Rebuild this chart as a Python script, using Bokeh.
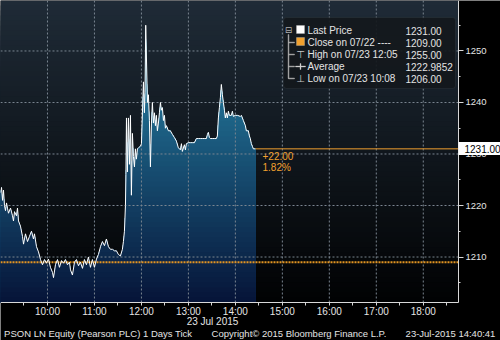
import numpy as np
from bokeh.plotting import figure
from bokeh.models import (Range1d, FixedTicker, Label, BoxAnnotation, LinearAxis,
                          PrintfTickFormatter)
from bokeh.embed import file_html
from bokeh.resources import INLINE

# ---- data (minutes after 09:00, price) ----
minutes = [0, 1.3, 2.6, 3.8, 5.1, 6.4, 7.7, 8.9, 10.2, 12.8, 15.3, 16.6, 17.9, 20.4, 21.7, 23.0, 25.5, 28.1, 29.4,
           31.9, 34.5, 37.0, 39.6, 42.1, 43.4, 46.0, 48.5, 51.1, 53.6, 56.2, 58.7, 61.3, 63.8, 66.4, 67.7, 70.2,
           72.8, 75.3, 77.9, 80.4, 83.0, 85.5, 88.1, 89.4, 91.9, 94.5, 97.0, 99.6, 102.1, 104.7, 107.2, 109.8,
           112.3, 114.9, 117.4, 120.0, 122.6, 125.1, 127.7, 130.2, 132.8, 135.3, 137.9, 140.4, 143.0, 145.5,
           148.1, 150.6, 153.2, 155.7, 157.0, 158.3, 159.6, 160.2, 160.9, 162.1, 163.4, 164.7, 166.0, 167.2,
           168.5, 169.8, 171.1, 172.3, 173.6, 174.9, 176.2, 178.7, 180.0, 181.3, 182.6, 183.8, 184.6, 185.5,
           187.7, 188.9, 190.2, 191.5, 192.8, 194.0, 195.3, 196.6, 197.9, 199.1, 200.4, 201.7, 203.0, 204.3,
           205.5, 206.8, 208.1, 209.4, 210.6, 211.9, 214.5, 217.0, 219.6, 222.1, 224.7, 227.2, 229.8, 231.1,
           232.3, 234.9, 236.2, 237.4, 240.0, 242.6, 245.1, 247.7, 250.2, 252.8, 255.3, 257.9, 260.4, 263.0,
           264.3, 265.5, 266.8, 268.1, 270.6, 273.2, 275.7, 277.0, 278.3, 279.6, 280.9, 282.1, 283.4, 284.7,
           286.0, 287.2, 288.5, 289.8, 291.1, 292.3, 294.9, 296.2, 297.4, 300.0, 302.6, 306.4, 307.7, 310.2,
           312.8, 314.0, 316.6, 317.9, 319.1, 320.4, 321.7, 323.0, 325.5]
prices = [1222.5, 1223.5, 1221, 1223, 1220, 1219, 1220.5, 1219.5, 1218.5, 1219.5, 1218, 1217, 1218.8, 1218,
          1219.5, 1217, 1216, 1214, 1212.5, 1214.5, 1213, 1214, 1215, 1213.5, 1214.5, 1212, 1211, 1209.5,
          1208.5, 1209.5, 1208.8, 1209.6, 1208, 1207, 1206, 1208.5, 1209.5, 1208, 1209.3, 1208.8, 1209.5,
          1208.5, 1209, 1207.5, 1206.5, 1209, 1209.5, 1208.3, 1209, 1207.8, 1209.5, 1208.5, 1210, 1208,
          1209.5, 1208, 1209.6, 1210.5, 1212, 1213, 1212.2, 1213.5, 1212, 1211.5, 1211.5, 1211.2, 1211.2,
          1210.5, 1210.2, 1211.5, 1213, 1215, 1220, 1226, 1237, 1226.5, 1237, 1228, 1237.5, 1222, 1234,
          1229.5, 1227.5, 1231, 1229, 1231, 1231.2, 1231.5, 1232, 1238, 1244, 1238, 1242, 1255, 1240,
          1241.5, 1236.5, 1227.5, 1236, 1240, 1236, 1238, 1235.5, 1237.5, 1234.5, 1236, 1238, 1240, 1238.5,
          1239, 1236.5, 1237.5, 1235, 1235.5, 1234.5, 1234.5, 1233.8, 1233.2, 1232.5, 1231.2, 1230.8, 1232,
          1230.5, 1231.8, 1230.8, 1232, 1232.2, 1232.2, 1232.2, 1232.2, 1233, 1233, 1233, 1233, 1233, 1233,
          1233.8, 1234.2, 1233.2, 1233, 1233, 1233, 1233, 1233.5, 1237, 1239, 1241, 1243.5, 1241.5, 1240,
          1238.5, 1237, 1238, 1237, 1238.3, 1237.5, 1237.5, 1238.3, 1237.3, 1237.5, 1237.5, 1237.3, 1237.5,
          1236.5, 1235.5, 1234.5, 1234.5, 1233.5, 1233, 1232, 1231.5, 1231, 1231]

prev_close = 1209.0
average = 1222.9852
high_time = "07/23 12:05"
low_time = "07/23 10:08"
close_date = "07/22"

x_ticks = [60, 120, 180, 240, 300, 360, 420, 480, 540]
x_tick_labels = ["10:00", "11:00", "12:00", "13:00", "14:00", "15:00", "16:00", "17:00", "18:00"]
x_minor = [30, 90, 150, 210, 270, 330, 390, 450, 510, 570]
y_ticks = [1210, 1220, 1230, 1240, 1250]
y_minor = [1205, 1215, 1225, 1235, 1245, 1255]

date_label = "23 Jul 2015"
footer_texts = ["PSON LN Equity (Pearson PLC) 1 Days  Tick",
                "Copyright\u00a9 2015 Bloomberg Finance L.P.",
                "23-Jul-2015 14:40:41"]

# ---- layout constants ----
W, H = 500, 340          # whole canvas = frame
DW, DH = 458, 302        # data area (top-left aligned)
XR = (0, 585)            # data x range shown in data area
YR = (1201.17, 1259.8)   # data y range shown in data area
FONT = "Liberation Sans"
ORANGE = "#f2a12e"
TXT = "#e4e4e4"

def px_to_x(px):
    return XR[0] + px / DW * (XR[1] - XR[0])

def py_to_y(py):
    return YR[1] - py / DH * (YR[1] - YR[0])

p = figure(frame_width=W, frame_height=H,
           x_range=Range1d(px_to_x(0), px_to_x(W)), y_range=Range1d(py_to_y(H), py_to_y(0)),
           x_axis_location=None, y_axis_location=None,
           output_backend="svg", toolbar_location=None, min_border=0)
p.background_fill_color = "black"
p.border_fill_color = "black"
p.outline_line_color = None
p.grid.visible = False

def mix(c0, c1, t):
    return "#%02x%02x%02x" % tuple(int(round(a + (b - a) * t)) for a, b in zip(c0, c1))

# background gradient of the data area
nb = 60
edges = np.linspace(YR[0], YR[1], nb + 1)
order = list(range(nb - 1, -1, -1))  # top band first
bg_top, bg_bot = (31, 43, 55), (1, 2, 3)
fill_top, fill_bot = (44, 150, 185), (6, 20, 56)
fr = [(YR[1] - (edges[k] + edges[k + 1]) / 2) / (YR[1] - YR[0]) for k in order]
p.quad(left=XR[0], right=XR[1], bottom=YR[0], top=[edges[k + 1] for k in order],
       fill_color=[mix(bg_top, bg_bot, f) for f in fr], line_color=None)

# area fill gradient
t = np.array(minutes, dtype=float)
pr = np.array(prices, dtype=float)
tf = np.union1d(t, np.linspace(t[0], t[-1], 2500))
pf = np.interp(tf, t, pr)
for k, f in zip(order, fr):
    p.varea(x=tf, y1=YR[0], y2=np.minimum(pf, edges[k + 1]), fill_color=mix(fill_top, fill_bot, f))

# dotted grid (data area only)
GRID = "#7a8590"
p.segment(x0=x_ticks, y0=YR[0], x1=x_ticks, y1=YR[1], line_color=GRID, line_dash="2 2", line_width=1)
p.segment(x0=XR[0], y0=y_ticks, x1=XR[1], y1=y_ticks, line_color=GRID, line_dash="2 2", line_width=1)

# previous close dotted line
p.segment(x0=[XR[0]], y0=[prev_close], x1=[XR[1]], y1=[prev_close], line_color="#e39522",
          line_width=2, line_dash="2 1")

# price line
p.line(minutes, prices, line_color="white", line_width=1)

# last price line
last = prices[-1]
p.segment(x0=[minutes[-1]], y0=[last], x1=[XR[1]], y1=[last], line_color=ORANGE, line_width=1)

# ---- axes (fixed at the data-area edges) ----
AX = "#d8d8d8"
def style(ax):
    ax.axis_line_color = AX
    ax.major_tick_line_color = AX
    ax.minor_tick_line_color = AX
    ax.major_label_text_color = TXT
    ax.major_label_text_font = FONT
    ax.major_tick_in = 0
    ax.minor_tick_in = 0

xa = LinearAxis(ticker=FixedTicker(ticks=x_ticks, minor_ticks=x_minor),
                major_label_overrides=dict(zip(x_ticks, x_tick_labels)),
                fixed_location=YR[0], bounds=XR)
style(xa)
xa.major_tick_out = 3
xa.minor_tick_out = 3
xa.major_label_standoff = 0
xa.major_label_text_font_size = "10px"
p.add_layout(xa, "below")

ya = LinearAxis(ticker=FixedTicker(ticks=y_ticks, minor_ticks=y_minor),
                fixed_location=XR[1], bounds=YR)
style(ya)
ya.major_tick_out = 5
ya.minor_tick_out = 2
ya.major_label_standoff = 2
ya.major_label_text_font_size = "9.5px"
p.add_layout(ya, "right")

# last-price tag: white bar (long thick tick) + black label
tag_bar = LinearAxis(ticker=FixedTicker(ticks=[last]), fixed_location=XR[1],
                     axis_line_color=None, minor_tick_line_color=None,
                     major_tick_line_color="white", major_tick_line_width=13,
                     major_tick_out=42, major_tick_in=0, major_label_text_alpha=0)
p.add_layout(tag_bar, "right")
tag_txt = LinearAxis(ticker=FixedTicker(ticks=[last]), formatter=PrintfTickFormatter(format="%.2f"),
                     fixed_location=XR[1], axis_line_color=None, minor_tick_line_color=None,
                     major_tick_line_color=None, major_tick_out=0, major_tick_in=0,
                     major_label_standoff=6, major_label_text_color="black",
                     major_label_text_font=FONT, major_label_text_font_size="10px")
p.add_layout(tag_txt, "right")

# date row and footer row as text-only axes
def text_axis(ypx, centers_px, texts, size):
    ax = LinearAxis(ticker=FixedTicker(ticks=[px_to_x(c) for c in centers_px]),
                    major_label_overrides={px_to_x(c): s for c, s in zip(centers_px, texts)},
                    fixed_location=py_to_y(ypx), axis_line_color=None,
                    major_tick_line_color=None, minor_tick_line_color=None,
                    major_tick_out=0, major_tick_in=0, major_label_standoff=0,
                    major_label_text_color=TXT, major_label_text_font=FONT,
                    major_label_text_font_size=size)
    p.add_layout(ax, "below")

text_axis(315, [212], [date_label], "10px")
text_axis(327.5, [99, 298.5, 450], footer_texts, "9.5px")

# ---- screen-positioned annotations (canvas px, y from top) ----
def lab(x, y, text, size="10px", color=TXT, align="left", font=FONT, **kw):
    p.add_layout(Label(x=x, y=H - y, x_units="screen", y_units="screen", text=text,
                       text_font=font, text_font_size=size, text_color=color,
                       text_align=align, text_baseline="middle", **kw))

def box(l, r, t_, b, color, alpha=1.0, **kw):
    p.add_layout(BoxAnnotation(left=l, right=r, top=H - t_, bottom=H - b,
                               left_units="screen", right_units="screen",
                               top_units="screen", bottom_units="screen",
                               fill_color=color, fill_alpha=alpha, **kw))

# change labels
chg = last - prev_close
lab(262, 155, "%+.2f" % chg, color=ORANGE)
lab(262, 167, "%.2f%%" % (chg / prev_close * 100), color=ORANGE)

# legend
box(283, 455, 17, 88, "#14181c", alpha=0.92, line_color="#3a4148", line_width=1, border_radius=3)
lab(288, 29, "\u229f", size="9px", color="#b0b0b0", font="DejaVu Sans", align="center")
box(287.5, 288.5, 34, 78, "#909090")
for yy in (42, 54, 66, 78):
    box(288, 294, yy - 0.5, yy + 0.5, "#909090")
box(296, 304, 25, 33, "white")
box(296, 304, 37, 45, ORANGE)
lab(300, 54, "\u22a4", size="10px", color="#c8c8c8", font="DejaVu Sans", align="center")
box(295, 305, 65.5, 66.5, "#d0d0d0")
box(299.5, 300.5, 63, 69, "#d0d0d0")
lab(300, 78, "\u22a5", size="10px", color="#c8c8c8", font="DejaVu Sans", align="center")

names = ["Last Price", "Close on %s ----" % close_date, "High on %s" % high_time, "Average",
         "Low on %s" % low_time]
vals = ["%.2f" % last, "%.2f" % prev_close, "%.2f" % max(prices), "%.4f" % average, "%.2f" % min(prices)]
for yy, n, v in zip((30, 42, 54, 66, 78), names, vals):
    lab(307, yy, n)
    lab(405, yy, v)

open("out.html", "w").write(file_html(p, INLINE))
